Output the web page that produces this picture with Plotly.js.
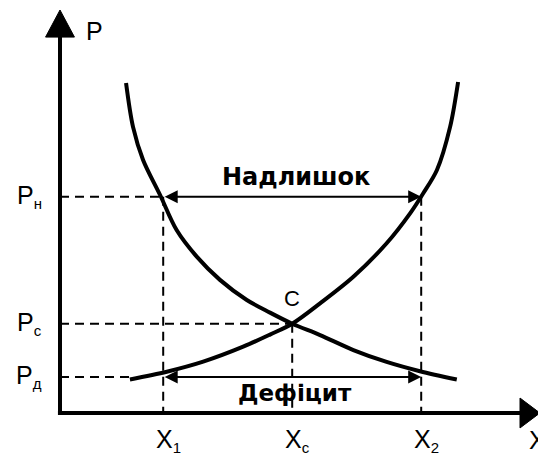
<!DOCTYPE html>
<html>
<head>
<meta charset="utf-8">
<script src="https://cdn.plot.ly/plotly-3.0.1.min.js"></script>
<style>html,body{margin:0;padding:0;background:#fff;}#chart{width:538px;height:455px;}</style>
</head>
<body>
<div id="chart"></div>
<script>
// Key levels
var X1 = 4, Xc = 9, X2 = 14;
var PH = 8.38, PC = 3.46, PD = 1.4;
var xSubs = ["1", "c", "2"];
var pSubs = ["н", "c", "д"];

// Demand curve (falling)
var demandX = [2.56, 2.83, 3.22, 3.88, 4.52, 5.30, 6.20, 7.24, 8.14, 9.0, 10.08, 11.37, 12.66, 13.95, 15.38];
var demandY = [12.79, 11.09, 9.81, 8.45, 7.09, 6.06, 5.16, 4.38, 3.89, 3.46, 3.02, 2.44, 1.98, 1.62, 1.30];
// Supply curve (rising)
var supplyX = [2.71, 4.14, 5.55, 7.10, 8.14, 9.0, 10.08, 11.37, 12.66, 13.57, 14.08, 14.61, 15.12, 15.43];
var supplyY = [1.30, 1.60, 1.99, 2.57, 3.04, 3.46, 4.25, 5.28, 6.58, 7.74, 8.52, 9.42, 11.09, 12.83];

var s = 25.8; // px per unit
var xRange = [-60 / s, (538 - 60) / s];
var yRange = [-(455 - 413) / s, 413 / s];

var dash = {color: "#000", width: 2, dash: "9px,6px"};
function dline(x0, y0, x1, y1) {
  return {type: "line", xref: "x", yref: "y", x0: x0, y0: y0, x1: x1, y1: y1, line: dash, layer: "below"};
}

var shapes = [
  dline(0, PH, X1, PH), dline(X1, PH, X1, 0), dline(X2, PH, X2, 0),
  dline(0, PC, Xc, PC), dline(Xc, PC, Xc, 0),
  dline(0, PD, supplyX[0], PD),
  {type: "line", xref: "x", yref: "y", x0: 0, y0: -0.08, x1: 0, y1: 14.7, line: {color: "#000", width: 4}},
  {type: "line", xref: "x", yref: "y", x0: -0.08, y0: 0, x1: 17.9, y1: 0, line: {color: "#000", width: 4}},
  {type: "path", xref: "x", yref: "y", path: "M 0,15.62 L -0.56,14.57 L 0.56,14.57 Z", fillcolor: "#000", line: {color: "#000", width: 1}},
  {type: "path", xref: "x", yref: "y", path: "M 18.6,0 L 17.83,0.58 L 17.83,-0.58 Z", fillcolor: "#000", line: {color: "#000", width: 1}}
];

var lblFont = {family: "Liberation Sans, Arial, sans-serif", size: 25, color: "#000"};
function withSub(main, sub) {
  return main + "<sub><span style='font-size:15px'>" + sub + "</span></sub>";
}
var annotations = [];
// double arrows
[PH, PD].forEach(function (py) {
  annotations.push({x: X2, y: py, ax: X1, ay: py, xref: "x", yref: "y", axref: "x", ayref: "y",
    text: "", showarrow: true, arrowside: "end+start", arrowhead: 2, arrowsize: 1.3, arrowwidth: 2,
    arrowcolor: "#000", standoff: 0, startstandoff: 0});
});
annotations.push({x: (X1 + X2) / 2 + 0.15, y: 9.15, xref: "x", yref: "y", text: "<b>Надлишок</b>", showarrow: false,
  font: {family: "DejaVu Sans, sans-serif", size: 24, color: "#000"}, xanchor: "center", yanchor: "middle"});
annotations.push({x: (X1 + X2) / 2 + 0.1, y: 0.76, xref: "x", yref: "y", text: "<b>Дефіцит</b>", showarrow: false,
  font: {family: "DejaVu Sans, sans-serif", size: 23, color: "#000"}, xanchor: "center", yanchor: "middle"});
annotations.push({x: Xc, y: PC + 0.98, xref: "x", yref: "y", text: "C", showarrow: false,
  font: {family: "Liberation Sans, Arial, sans-serif", size: 22, color: "#000"}, xanchor: "center", yanchor: "middle"});
// axis labels
annotations.push({x: 0.93, y: 14.81, xref: "x", yref: "y", text: "P", showarrow: false, font: lblFont, xanchor: "left", yanchor: "middle"});
annotations.push({x: 18.1, y: -1.05, xref: "x", yref: "y", text: "X", showarrow: false, font: lblFont, xanchor: "left", yanchor: "middle"});
[PH, PC, PD].forEach(function (v, i) {
  annotations.push({x: -0.62, y: v, xref: "x", yref: "y", text: withSub("P", pSubs[i]), showarrow: false, font: lblFont, xanchor: "right", yanchor: "middle"});
});
[X1, Xc, X2].forEach(function (v, i) {
  annotations.push({x: v - 0.35, y: -1.05, xref: "x", yref: "y", text: withSub("X", xSubs[i]), showarrow: false, font: lblFont, xanchor: "left", yanchor: "middle"});
});

var traces = [
  {x: demandX, y: demandY, mode: "lines", line: {color: "#000", width: 4, shape: "spline", smoothing: 0.9}, hoverinfo: "skip"},
  {x: supplyX, y: supplyY, mode: "lines", line: {color: "#000", width: 4, shape: "spline", smoothing: 0.9}, hoverinfo: "skip"}
];

var layout = {
  width: 538, height: 455, autosize: false,
  margin: {l: 0, r: 0, t: 0, b: 0, pad: 0},
  paper_bgcolor: "#fff", plot_bgcolor: "#fff",
  showlegend: false,
  xaxis: {range: xRange, visible: false, fixedrange: true},
  yaxis: {range: yRange, visible: false, fixedrange: true},
  shapes: shapes,
  annotations: annotations
};

Plotly.newPlot("chart", traces, layout, {staticPlot: true, displayModeBar: false});
</script>
</body>
</html>
